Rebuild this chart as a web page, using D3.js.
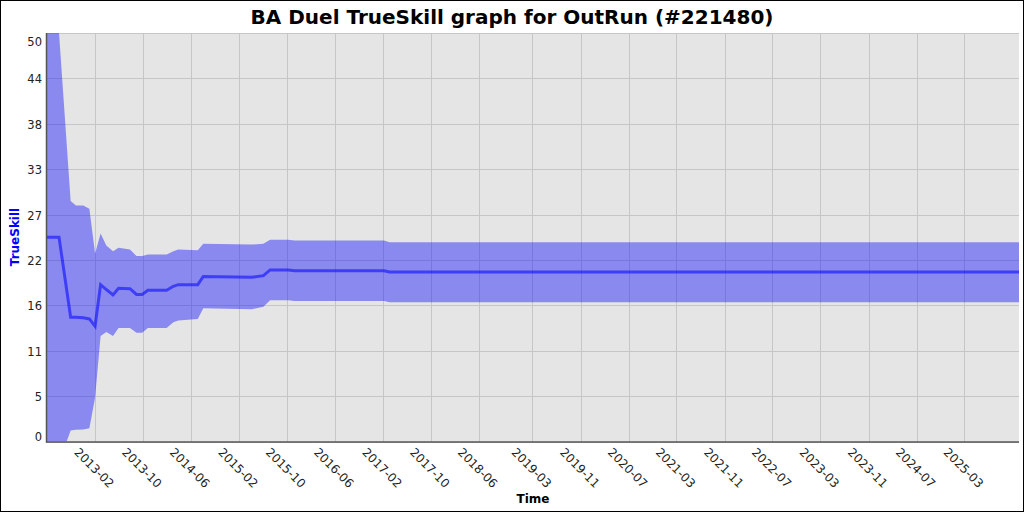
<!DOCTYPE html>
<html>
<head>
<meta charset="utf-8">
<script src="https://cdn.jsdelivr.net/npm/d3@7"></script>
<style>
  html, body { margin: 0; padding: 0; background: #ffffff; }
  svg { display: block; font-family: "DejaVu Sans", sans-serif; }
</style>
</head>
<body>
<svg id="chart" width="1024" height="512"></svg>
<script>
// ---- data ----
const dates = ["2012-06-02","2012-08-02","2012-09-30","2012-10-27","2012-12-03","2013-01-03",
  "2013-02-01","2013-03-01","2013-03-30","2013-05-03","2013-05-31","2013-07-28","2013-08-30",
  "2013-09-28","2013-10-27","2014-01-30","2014-03-05","2014-03-30","2014-07-07","2014-08-04",
  "2015-04-07","2015-06-05","2015-07-09","2015-10-09","2015-11-10","2017-02-06","2017-03-06",
  "2025-12-03"];
const muValues = [25.0, 25.0, 15.2, 15.2, 15.15, 15.0,
  14.1, 19.2, 18.6, 17.95, 18.75, 18.7, 18.0,
  18.0, 18.5, 18.5, 19.0, 19.2, 19.2, 20.2,
  20.1, 20.3, 21.0, 21.0, 20.9, 20.9, 20.75,
  20.75];
const upperValues = [50.0, 50.0, 29.45, 28.9, 28.9, 28.5,
  23.0, 25.45, 24.0, 23.3, 23.7, 23.5, 22.7,
  22.7, 22.9, 22.9, 23.3, 23.5, 23.4, 24.2,
  24.1, 24.2, 24.7, 24.7, 24.6, 24.6, 24.4,
  24.4];
const lowerValues = [0.0, -2.6, 1.35, 1.45, 1.47, 1.63,
  5.4, 12.9, 13.4, 12.9, 13.9, 13.9, 13.3,
  13.3, 13.9, 13.9, 14.6, 14.8, 15.0, 16.3,
  16.2, 16.5, 17.3, 17.3, 17.2, 17.2, 17.05,
  17.05];
const xTickLabels = ["2013-02","2013-10","2014-06","2015-02","2015-10","2016-06","2017-02",
  "2017-10","2018-06","2019-03","2019-11","2020-07","2021-03","2021-11","2022-07","2023-03",
  "2023-11","2024-07","2025-03"];
const yDomain = [0, 50];
const yTickCount = 10;

// ---- layout ----
const W = 1024, H = 512;
const plot = { left: 47, right: 1019, top: 33, bottom: 441.5 };

const parseDay = d3.timeParse("%Y-%m-%d");
const parseMonth = d3.timeParse("%Y-%m");
const rows = dates.map((d, i) => ({
  date: parseDay(d), mu: muValues[i], up: upperValues[i], lo: lowerValues[i]
}));

const x = d3.scaleTime()
  .domain(d3.extent(rows, d => d.date))
  .range([plot.left, plot.right]);
const y = d3.scaleLinear().domain(yDomain).range([plot.bottom, plot.top]);

const yTicks = d3.range(yTickCount).map(i => yDomain[0] + i * (yDomain[1] - yDomain[0]) / (yTickCount - 1));
const xTicks = xTickLabels.map(s => parseMonth(s));

const svg = d3.select("#chart");

// outer border
svg.append("rect").attr("x", 0.5).attr("y", 0.5).attr("width", W - 1).attr("height", H - 1)
  .attr("fill", "#ffffff").attr("stroke", "#000000").attr("stroke-width", 1);

// plot background
svg.append("rect").attr("x", plot.left).attr("y", plot.top)
  .attr("width", plot.right - plot.left).attr("height", plot.bottom - plot.top)
  .attr("fill", "#e5e5e5");

svg.append("defs").append("clipPath").attr("id", "clip")
  .append("rect").attr("x", plot.left).attr("y", plot.top)
  .attr("width", plot.right - plot.left).attr("height", plot.bottom - plot.top);

// grid
const grid = svg.append("g").attr("stroke", "#c6c6c6").attr("stroke-width", 1);
grid.selectAll("line.h").data(yTicks).join("line").attr("class", "h")
  .attr("x1", plot.left).attr("x2", plot.right)
  .attr("y1", d => Math.round(y(d)) + 0.5).attr("y2", d => Math.round(y(d)) + 0.5);
grid.selectAll("line.v").data(xTicks).join("line").attr("class", "v")
  .attr("y1", plot.top).attr("y2", plot.bottom)
  .attr("x1", d => Math.round(x(d)) + 0.5).attr("x2", d => Math.round(x(d)) + 0.5);

// band
const g = svg.append("g").attr("clip-path", "url(#clip)");
g.append("path").datum(rows)
  .attr("fill", "rgba(0,0,255,0.4)")
  .attr("d", d3.area().x(d => x(d.date)).y0(d => y(d.lo)).y1(d => y(d.up)));

// mean line
g.append("path").datum(rows)
  .attr("fill", "none")
  .attr("stroke", "rgba(0,0,255,0.55)")
  .attr("stroke-width", 3)
  .attr("stroke-linejoin", "miter")
  .attr("d", d3.line().x(d => x(d.date)).y(d => y(d.mu)));

// axes lines
svg.append("line").attr("x1", plot.left - 0.5).attr("x2", plot.left - 0.5)
  .attr("y1", plot.top).attr("y2", plot.bottom + 1)
  .attr("stroke", "#555555").attr("stroke-width", 1.5);
svg.append("line").attr("x1", plot.left - 1).attr("x2", plot.right)
  .attr("y1", plot.bottom + 0.5).attr("y2", plot.bottom + 0.5)
  .attr("stroke", "#555555").attr("stroke-width", 1.5);

// y tick labels
svg.append("g").selectAll("text").data(yTicks).join("text")
  .attr("x", 42)
  .attr("y", (d, i) => y(d) + (i === 0 ? -5 : (i === yTicks.length - 1 ? 8.5 : 1)))
  .attr("text-anchor", "end")
  .attr("dominant-baseline", "central")
  .attr("font-size", 11.5)
  .attr("fill", "#222222")
  .text(d => Math.floor(d + 1e-9));

// x tick labels (rotated 45deg)
svg.append("g").selectAll("text").data(xTicks).join("text")
  .attr("transform", (d, i) => `translate(${x(d) - 1},468) rotate(45)`)
  .attr("text-anchor", "middle")
  .attr("dominant-baseline", "central")
  .attr("font-size", 12)
  .attr("fill", "#222222")
  .text((d, i) => xTickLabels[i]);

// axis titles
svg.append("text").attr("x", 533).attr("y", 503)
  .attr("text-anchor", "middle").attr("font-size", 12).attr("font-weight", "bold")
  .attr("fill", "#000000").text("Time");
svg.append("text").attr("transform", "translate(19,237) rotate(-90)")
  .attr("text-anchor", "middle").attr("font-size", 12).attr("font-weight", "bold")
  .attr("fill", "#0000ff").text("TrueSkill");

// title
svg.append("text").attr("x", 512).attr("y", 24)
  .attr("text-anchor", "middle").attr("font-size", 20).attr("font-weight", "bold")
  .attr("fill", "#000000").text("BA Duel TrueSkill graph for OutRun (#221480)");
</script>
</body>
</html>
